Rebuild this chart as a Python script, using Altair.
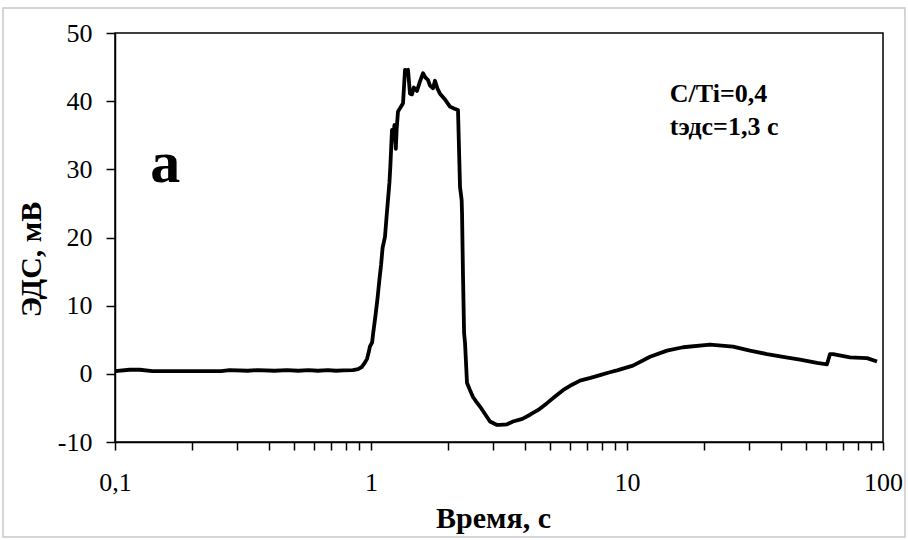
import altair as alt
import pandas as pd

# Time, s (log scale) and EMF, mV
time_s = [0.100, 0.114, 0.125, 0.14, 0.15, 0.2, 0.26, 0.28, 0.33, 0.36, 0.42, 0.47, 0.52,
          0.57, 0.62, 0.68, 0.73, 0.78, 0.85, 0.89, 0.92, 0.945, 0.965, 0.98, 0.99, 1.01,
          1.02, 1.04, 1.06, 1.08, 1.095, 1.11, 1.134, 1.15, 1.165, 1.18, 1.19, 1.20, 1.208,
          1.22, 1.235, 1.25, 1.26, 1.275, 1.30, 1.334, 1.345, 1.358, 1.38, 1.395, 1.41,
          1.42, 1.446, 1.47, 1.512, 1.55, 1.597, 1.63, 1.67, 1.70, 1.747, 1.778, 1.82,
          1.86, 1.95, 2.035, 2.12, 2.187, 2.227, 2.26, 2.268, 2.288, 2.31, 2.33, 2.371,
          2.43, 2.503, 2.58, 2.666, 2.8, 2.916, 3.106, 3.191, 3.4, 3.587, 3.9, 4.181, 4.5,
          4.87, 5.25, 5.623, 6.1, 6.553, 7.2, 7.846, 8.5, 9.14, 10.55, 12.3, 14.33, 16.55,
          21.1, 25.95, 30.24, 35.24, 40.68, 47.41, 55.24, 60.43, 62.09, 63.79, 74.32,
          86.6, 94.75]
emf_mv = [0.4, 0.6, 0.6, 0.4, 0.4, 0.4, 0.4, 0.55, 0.45, 0.55, 0.45, 0.55, 0.45,
          0.55, 0.45, 0.55, 0.45, 0.5, 0.55, 0.7, 1.0, 1.6, 2.2, 3.2, 4.0, 4.6,
          6.0, 8.4, 11.0, 14.0, 16.0, 18.5, 20.1, 23.0, 25.5, 28.0, 30.4, 33.5, 35.8,
          34.5, 36.5, 33.0, 36.0, 38.5, 39.0, 39.7, 42.0, 44.6, 44.5, 44.6, 42.5,
          41.1, 41.0, 42.0, 41.5, 42.8, 44.1, 43.5, 43.1, 42.3, 41.9, 43.0, 41.8,
          41.1, 40.2, 39.2, 38.9, 38.7, 27.4, 25.5, 23.5, 14.2, 6.0, 4.5, -1.3,
          -2.3, -3.4, -4.1, -4.8, -6.0, -7.0, -7.5, -7.5, -7.4, -7.0, -6.6, -6.0, -5.3,
          -4.3, -3.3, -2.4, -1.6, -1.0, -0.6, -0.2, 0.2, 0.5, 1.2, 2.5, 3.4, 3.9,
          4.3, 4.0, 3.4, 2.9, 2.5, 2.1, 1.6, 1.4, 2.9, 2.9, 2.4,
          2.3, 1.8]

x_ticks = [0.1, 0.2, 0.3, 0.4, 0.5, 0.6, 0.7, 0.8, 0.9,
           1, 2, 3, 4, 5, 6, 7, 8, 9,
           10, 20, 30, 40, 50, 60, 70, 80, 90, 100]
y_ticks = [-10, -5, 0, 5, 10, 15, 20, 25, 30, 35, 40, 45, 50]

ann_text = ["C/Ti=0,4", "tэдс=1,3 с"]
ann_x = [14.7, 14.7]
ann_y = [39.9, 35.0]

panel_text = ["а"]
panel_x = [0.157]
panel_y = [28.2]

FONT = "Liberation Serif"

df = pd.DataFrame({"t": time_s, "v": emf_mv, "i": list(range(len(time_s)))})
ann = pd.DataFrame({"t": ann_x, "v": ann_y, "label": ann_text})
pan = pd.DataFrame({"t": panel_x, "v": panel_y, "label": panel_text})

xscale = alt.Scale(type="log", domain=[0.1, 100], nice=False)
yscale = alt.Scale(domain=[-10, 50], nice=False, zero=False)

x_axis = alt.Axis(
    title="Время, с", values=x_ticks,
    labelExpr="datum.value == 0.1 ? '0,1' : datum.value == 1 ? '1' : datum.value == 10 ? '10' : datum.value == 100 ? '100' : ''",
    grid=False, tickSize=8, labelPadding=19, labelFontSize=26, labelFont=FONT,
    titleFont=FONT, titleFontSize=30, titleFontWeight="bold",
    titleX=378, titleY=85, titleBaseline="alphabetic", titleAlign="center",
    domainColor="black", tickColor="black", labelColor="black", titleColor="#000000",
    domainWidth=1.5, tickWidth=1.5, labelFlush=False, labelOverlap=False,
)
y_axis = alt.Axis(
    title="ЭДС, мВ", values=y_ticks,
    labelExpr="datum.value % 10 == 0 ? toString(datum.value) : ''",
    grid=False, tickSize=9, labelPadding=14, labelFontSize=26, labelFont=FONT,
    titleFont=FONT, titleFontSize=30, titleFontWeight="bold",
    titleX=-75, titleY=226, titleBaseline="alphabetic", titleAlign="center", titleAngle=270,
    domainColor="black", tickColor="black", labelColor="black", titleColor="#000000",
    domainWidth=1.5, tickWidth=1.5, labelFlush=False, labelOverlap=False,
)

line = alt.Chart(df).mark_line(color="black", strokeWidth=3.8, strokeJoin="round").encode(
    x=alt.X("t:Q", scale=xscale, axis=x_axis),
    y=alt.Y("v:Q", scale=yscale, axis=y_axis),
    order="i:Q",
)

notes = alt.Chart(ann).mark_text(
    align="left", baseline="alphabetic", font=FONT, fontSize=26, fontWeight="bold", color="black"
).encode(
    x=alt.X("t:Q", scale=xscale), y=alt.Y("v:Q", scale=yscale), text="label:N"
)

panel = alt.Chart(pan).mark_text(
    align="center", baseline="alphabetic", font=FONT, fontSize=60, fontWeight="bold", color="black"
).encode(
    x=alt.X("t:Q", scale=xscale), y=alt.Y("v:Q", scale=yscale), text="label:N"
)

frame = alt.Chart(pd.DataFrame({"a": [0]})).mark_rect(
    fill=None, stroke="#c8c8c8", strokeWidth=1.5
).encode(
    x=alt.value(-112), x2=alt.value(790), y=alt.value(-25), y2=alt.value(504)
)

chart = alt.layer(frame, line, notes, panel).properties(
    width=768, height=409,
    autosize=alt.AutoSizeParams(type="none"),
    padding={"left": 115, "top": 33, "right": 25, "bottom": 98},
    background="white",
).configure_view(stroke="black", strokeWidth=1.5)

chart.save("out.html", embed_options={"renderer": "svg", "actions": False})
